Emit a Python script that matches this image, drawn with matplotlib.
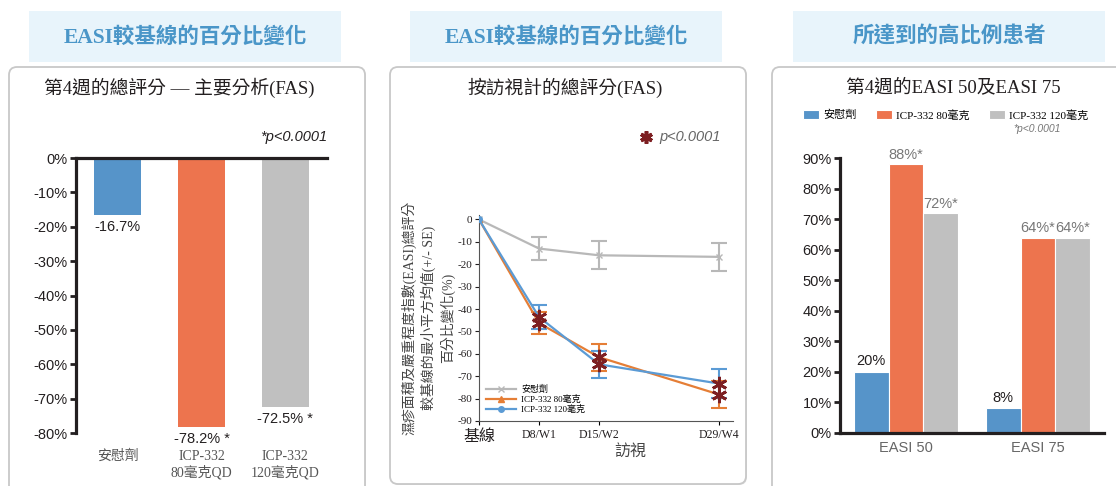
import matplotlib
matplotlib.use('Agg')
import matplotlib.pyplot as plt
from matplotlib.patches import FancyBboxPatch, Rectangle
from matplotlib.lines import Line2D

W, H = 1116, 486
SERIF = ['Liberation Serif', 'Noto Sans CJK TC']
SANS = ['Liberation Sans', 'Noto Sans CJK TC']

# panel 1: total score, week 4 (FAS)
groups1 = ['安慰劑', 'ICP-332\n80毫克QD', 'ICP-332\n120毫克QD']
change1 = [-16.7, -78.2, -72.5]
signif1 = ['', ' *', ' *']

# panel 2: LS mean % change by visit (+/- SE)
visits = ['基線', 'D8/W1', 'D15/W2', 'D29/W4']
visit_day = [1, 8, 15, 29]
placebo_mean = [0, -13.0, -16.0, -16.7]
placebo_se = [0, 5.0, 6.2, 6.2]
dose80_mean = [0, -46.3, -61.5, -78.2]
dose80_se = [0, 5.0, 6.0, 6.1]
dose120_mean = [0, -43.6, -64.7, -73.3]
dose120_se = [0, 5.2, 6.0, 6.3]
line_labels = ['安慰劑', 'ICP-332 80毫克', 'ICP-332 120毫克']

# panel 3: responders at week 4
endpoints = ['EASI 50', 'EASI 75']
resp_placebo = [20, 8]
resp_80 = [88, 64]
resp_120 = [72, 64]
bar_labels = ['安慰劑', 'ICP-332 80毫克', 'ICP-332 120毫克']

BLUE, ORANGE, GREY = '#5694c9', '#ed744e', '#c0c0c0'
L_BLUE, L_ORANGE, L_GREY = '#5b9bd5', '#e57e36', '#b8b8b8'
STAR = '#7d1f22'
INK = '#231f20'

fig = plt.figure(figsize=(W / 100, H / 100), dpi=100, facecolor='white')

# pixel-space background layer for boxes and free text
bg = fig.add_axes([0, 0, 1, 1], zorder=0)
bg.set_xlim(0, W)
bg.set_ylim(H, 0)
bg.axis('off')


def add_ax(x0, y0, x1, y1):
    a = fig.add_axes([x0 / W, 1 - y1 / H, (x1 - x0) / W, (y1 - y0) / H], zorder=2)
    a.set_facecolor('none')
    return a


# header boxes
headers = [(29, 341, 'EASI較基線的百分比變化'),
           (410, 722, 'EASI較基線的百分比變化'),
           (793, 1105, '所達到的高比例患者')]
for x0, x1, txt in headers:
    bg.add_patch(Rectangle((x0, 11), x1 - x0, 51, fc='#e8f4fb', ec='none'))
    bg.text((x0 + x1) / 2, 37, txt, ha='center', va='center', fontsize=15.5,
            fontweight='bold', color='#4a96c8', family=SERIF)

# cards
for x0, x1, y1 in [(9, 365, 520), (390, 746, 484), (772, 1140, 520)]:
    bg.add_patch(FancyBboxPatch((x0 + 1, 68), x1 - x0, y1 - 67,
                                boxstyle='round,pad=0,rounding_size=8',
                                fc='#e4e4e4', ec='none'))
    bg.add_patch(FancyBboxPatch((x0, 67), x1 - x0, y1 - 67,
                                boxstyle='round,pad=0,rounding_size=8',
                                fc='white', ec='#c8c8c8', lw=1.3))

# ---- panel 1 ----
bg.text(179, 88, '第4週的總評分 — 主要分析(FAS)', ha='center', va='center',
        fontsize=13.5, color=INK, family=SERIF)
bg.text(327, 137, '*p<0.0001', ha='right', va='center', fontsize=10.5,
        style='italic', color=INK, family=SANS)

ax1 = add_ax(76, 158, 327, 433)
x1 = range(len(groups1))
ax1.bar(x1, change1, width=0.56, color=[BLUE, ORANGE, GREY])
for i, v in enumerate(change1):
    ax1.annotate(f'{v}%{signif1[i]}', (i, v), xytext=(0, -3.5),
                 textcoords='offset points', ha='center', va='top',
                 fontsize=10.5, color=INK, family=SANS)
ax1.set_xlim(-0.5, 2.5)
ax1.set_ylim(-80, 0)
ax1.set_yticks(range(-80, 1, 10))
ax1.set_yticklabels([f'{v}%' for v in range(-80, 1, 10)], family=SANS)
ax1.set_xticks(list(x1))
ax1.set_xticklabels(groups1, family=SERIF, fontsize=10, color='#555555',
                    linespacing=1.2)
ax1.tick_params(axis='x', length=0, pad=12)
ax1.tick_params(axis='y', length=4, width=2, labelsize=10.5, pad=2,
                colors=INK)
for s in ['right', 'bottom']:
    ax1.spines[s].set_visible(False)
for s in ['top', 'left']:
    ax1.spines[s].set_linewidth(2.3)
    ax1.spines[s].set_color(INK)

# ---- panel 2 ----
bg.text(565, 88, '按訪視計的總評分(FAS)', ha='center', va='center',
        fontsize=13.5, color=INK, family=SERIF)
bg.plot(646, 137, marker=(6, 2, 0), ms=9, mew=2.6, color=STAR)
bg.text(659, 137, 'p<0.0001', ha='left', va='center', fontsize=10.5,
        style='italic', color='#666666', family=SANS)

ax2 = add_ax(479, 215, 733, 421)
series = [(placebo_mean, placebo_se, L_GREY, 'x'),
          (dose80_mean, dose80_se, L_ORANGE, '^'),
          (dose120_mean, dose120_se, L_BLUE, 'o')]
handles = []
for mean, se, col, mk in series:
    ax2.plot(visit_day, mean, color=col, lw=1.6, marker=mk, ms=4,
             mew=1.0, zorder=3)
    ax2.errorbar(visit_day[1:], mean[1:], yerr=se[1:], fmt='none',
                 ecolor=col, elinewidth=1.5, capsize=5.5, capthick=1.5,
                 zorder=3)
    handles.append(Line2D([], [], color=col, lw=1.6, marker=mk, ms=4))
for mean in (dose80_mean, dose120_mean):
    ax2.plot(visit_day[1:], mean[1:], ls='none', marker=(6, 2, 0), ms=11,
             mew=2.0, color=STAR, zorder=4)
ax2.set_xlim(1, 30.6)
ax2.set_ylim(-90, 2)
ax2.set_yticks(range(-90, 1, 10))
ax2.set_yticklabels([str(v) for v in range(-90, 1, 10)], family=SERIF)
ax2.set_xticks(visit_day)
ax2.set_xticklabels(visits, family=SERIF, fontsize=8.5, color=INK)
ax2.get_xticklabels()[0].set_fontsize(11.5)
ax2.tick_params(axis='y', length=3, labelsize=8, pad=2, colors=INK)
ax2.tick_params(axis='x', length=3, pad=3)
for s in ['top', 'right']:
    ax2.spines[s].set_visible(False)
for s in ['left', 'bottom']:
    ax2.spines[s].set_color('#555555')
ax2.legend(handles, line_labels, loc='lower left', frameon=False,
           bbox_to_anchor=(0.0, 0.0), prop={'family': SERIF, 'size': 6.5},
           handlelength=3.3, labelspacing=0.12, handletextpad=0.6,
           borderaxespad=0.35)
bg.text(428, 318, '濕疹面積及嚴重程度指數(EASI)總評分\n較基線的最小平方均值(+/- SE)\n百分比變化(%)',
        rotation=90, ha='center', va='center', multialignment='center',
        fontsize=10, color='#444444', family=SERIF, linespacing=1.3)
bg.text(630, 452, '訪視', ha='center', va='center', fontsize=11.5,
        color='#444444', family=SERIF)

# ---- panel 3 ----
bg.text(953, 87, '第4週的EASI 50及EASI 75', ha='center', va='center',
        fontsize=13.5, color=INK, family=SERIF)
bg.text(1037, 129, '*p<0.0001', ha='center', va='center', fontsize=7.5,
        style='italic', color='#777777', family=SANS)

ax3 = add_ax(840, 158.3, 1104, 432.7)
bw = 0.264
x3 = list(range(len(endpoints)))
bars = []
for k, (vals, col) in enumerate([(resp_placebo, BLUE), (resp_80, ORANGE),
                                 (resp_120, GREY)]):
    pos = [p + (k - 1) * bw for p in x3]
    b = ax3.bar(pos, vals, width=bw, color=col, edgecolor='white', lw=0.8)
    bars.append(b)
    for p, v in zip(pos, vals):
        lab = f'{v}%' if k == 0 else f'{v}%*'
        ax3.annotate(lab, (p, v), xytext=(0, 1.5 if k else 2.5),
                     textcoords='offset points', ha='center', va='bottom',
                     fontsize=10.5, family=SANS,
                     color=INK if k == 0 else '#777777')
ax3.set_xlim(-0.5, 1.5)
ax3.set_ylim(0, 90)
ax3.set_yticks(range(0, 91, 10))
ax3.set_yticklabels([f'{v}%' for v in range(0, 91, 10)], family=SANS)
ax3.set_xticks(x3)
ax3.set_xticklabels(endpoints, family=SANS, fontsize=10.5, color='#666666')
ax3.tick_params(axis='x', length=0, pad=6)
ax3.tick_params(axis='y', length=4, width=2, labelsize=10.5, pad=2,
                colors=INK)
for s in ['top', 'right']:
    ax3.spines[s].set_visible(False)
for s in ['left', 'bottom']:
    ax3.spines[s].set_linewidth(2.3)
    ax3.spines[s].set_color(INK)
ax3.legend(bars, bar_labels, ncol=3, frameon=False, loc='center left',
           bbox_to_anchor=(803, 115), bbox_transform=bg.transData,
           prop={'family': SERIF, 'size': 8}, handlelength=1.45,
           handleheight=0.95, handletextpad=0.4, columnspacing=1.7,
           borderpad=0, borderaxespad=0)

fig.savefig('out.png', dpi=100, facecolor='white')
